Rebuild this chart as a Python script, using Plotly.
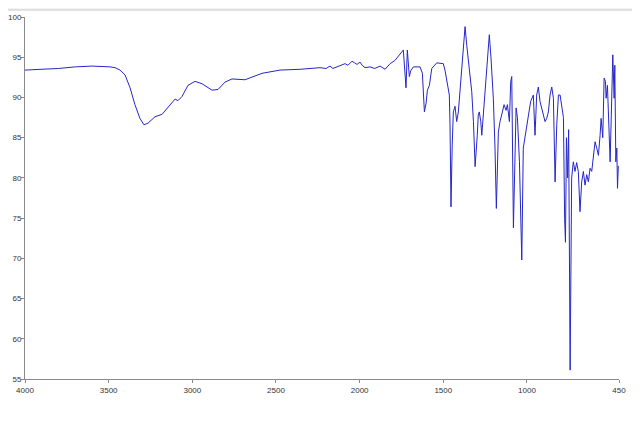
import plotly.graph_objects as go

wavenumber = [4000, 3900, 3800, 3700, 3600, 3492, 3462, 3432, 3402, 3372, 3343, 3313, 3289, 3265,
              3223, 3181, 3145, 3103, 3086, 3062, 3026, 2984, 2942, 2882, 2846, 2805, 2763, 2685,
              2583, 2476, 2356, 2237, 2200, 2177, 2160, 2147, 2120, 2087, 2070, 2046, 2030, 2016,
              1998, 1985, 1968, 1938, 1910, 1878, 1848, 1818, 1789, 1759, 1739, 1723, 1715, 1703,
              1695, 1679, 1639, 1625, 1619, 1613, 1603, 1595, 1583, 1569, 1539, 1500, 1490, 1476,
              1464, 1460, 1454, 1447, 1440, 1430, 1420, 1410, 1400, 1380, 1370, 1360, 1350, 1340,
              1330, 1320, 1310, 1297, 1291, 1285, 1276, 1270, 1261, 1251, 1240, 1231, 1225, 1215,
              1201, 1191, 1183, 1171, 1161, 1147, 1137, 1125, 1117, 1105, 1097, 1091, 1081, 1065,
              1057, 1045, 1031, 1022, 1001, 992, 978, 962, 952, 942, 932, 922, 912, 902, 892, 882,
              872, 862, 852, 842, 832, 822, 812, 802, 792, 782, 775, 770, 764, 757, 751, 742, 733,
              723, 713, 703, 693, 683, 673, 663, 653, 643, 633, 623, 613, 603, 593, 583, 573, 563,
              557, 547, 539, 531, 527, 519, 511, 503, 496, 487, 479, 475, 469, 463, 459, 456, 454]

transmittance = [93.4, 93.5, 93.6, 93.8, 93.9, 93.8, 93.7, 93.4, 92.8, 91.2, 89.1, 87.4, 86.6, 86.8,
                 87.6, 87.9, 88.8, 89.8, 89.6, 90.1, 91.5, 92.0, 91.7, 90.9, 91.0, 91.9, 92.3, 92.2,
                 93.0, 93.4, 93.5, 93.7, 93.6, 93.9, 93.6, 93.7, 93.9, 94.2, 94.0, 94.5, 94.3, 94.1,
                 94.4, 94.0, 93.7, 93.8, 93.6, 93.9, 93.5, 94.2, 94.6, 95.3, 95.9, 91.2, 95.9, 92.6,
                 93.3, 93.8, 93.8, 93.0, 90.1, 88.2, 89.3, 90.9, 91.5, 93.6, 94.3, 94.2, 93.4, 91.8,
                 90.3, 86.6, 76.4, 84.0, 88.2, 88.9, 87.0, 88.2, 91.1, 96.1, 98.8, 96.5, 94.4, 93.2,
                 90.7, 87.0, 81.4, 85.3, 87.8, 88.2, 87.0, 85.3, 87.8, 90.3, 93.2, 96.5, 97.8, 94.9,
                 89.9, 83.7, 76.2, 85.7, 87.0, 88.2, 89.1, 88.4, 89.1, 87.0, 92.0, 92.6, 73.8, 88.7,
                 87.5, 82.0, 69.8, 83.7, 86.6, 87.8, 89.5, 90.3, 85.3, 90.3, 91.3, 89.5, 88.7, 87.8,
                 87.0, 87.4, 88.2, 90.3, 91.3, 89.9, 79.5, 86.6, 90.3, 90.3, 89.1, 87.5, 75.0, 72.0,
                 85.0, 80.0, 86.0, 56.1, 80.0, 82.0, 80.8, 81.9, 80.8, 75.8, 79.5, 80.8, 79.1, 80.4,
                 79.5, 81.2, 80.8, 82.8, 84.5, 83.7, 82.8, 85.3, 87.4, 85.0, 92.4, 92.0, 89.9, 91.5,
                 86.6, 82.0, 87.8, 95.3, 89.9, 94.0, 82.0, 83.7, 78.7, 81.2, 81.5]

x_tick_values = [4000, 3500, 3000, 2500, 2000, 1500, 1000, 450]
x_tick_labels = ["4000", "3500", "3000", "2500", "2000", "1500", "1000", "450"]
y_tick_values = [55, 60, 65, 70, 75, 80, 85, 90, 95, 100]

fig = go.Figure()
fig.add_trace(go.Scatter(x=wavenumber, y=transmittance, mode="lines",
                         line=dict(color="#2626c8", width=1), showlegend=False,
                         hoverinfo="x+y"))

axis_common = dict(showgrid=False, zeroline=False, showline=True, linecolor="#8a8a8a",
                   linewidth=1, ticks="outside", ticklen=3, tickcolor="#8a8a8a",
                   automargin=False,
                   tickfont=dict(family="Liberation Sans, Arial, sans-serif", size=8, color="#333333"))

fig.update_xaxes(range=[4000, 450], tickmode="array", tickvals=x_tick_values,
                 ticktext=x_tick_labels, ticklabelstandoff=0, **axis_common)
fig.update_yaxes(range=[55, 100], tickmode="array", tickvals=y_tick_values,
                 ticklabelstandoff=-2, **axis_common)

fig.update_layout(
    width=632, height=414,
    margin=dict(l=17, r=21, t=9, b=43),
    paper_bgcolor="white", plot_bgcolor="white",
    shapes=[
        dict(type="rect", xref="paper", yref="paper", x0=-0.1, x1=1.1, y0=1.0193, y1=1.1,
             fillcolor="#f4f4f4", line=dict(width=0), layer="below"),
        dict(type="line", xref="paper", yref="paper", x0=-0.1, x1=1.1, y0=1.0193, y1=1.0193,
             line=dict(color="#c8c8c8", width=1)),
    ],
)

fig.write_html("out.html")
